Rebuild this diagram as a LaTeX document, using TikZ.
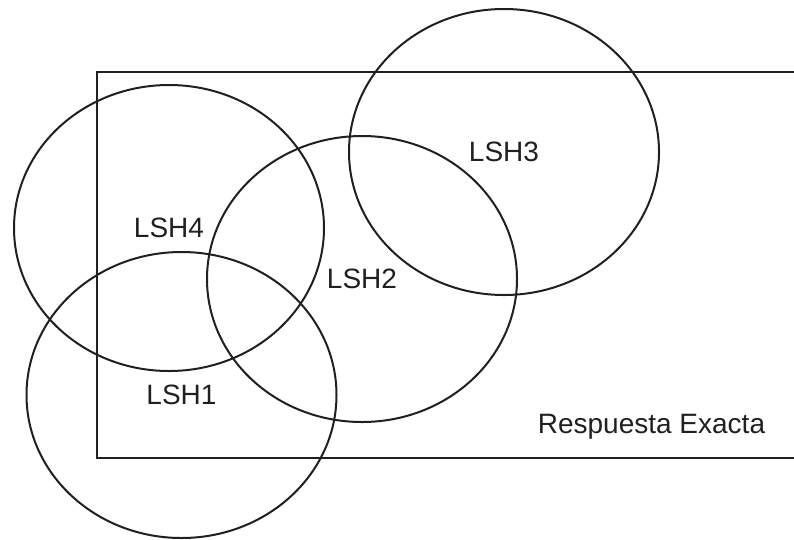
\documentclass[tikz,border=0pt]{standalone}
\usepackage{fontspec}
\setmainfont{Liberation Sans}
\usetikzlibrary{shapes.geometric}
\definecolor{ink}{HTML}{231F20}
\tikzset{
  set/.style={ellipse, draw=ink, line width=2pt, minimum width=310pt,
    minimum height=286pt, inner sep=0pt, text=ink,
    font=\fontsize{28}{33}\selectfont},
  frame/.style={draw=ink, line width=2pt},
  caption/.style={text=ink, font=\fontsize{28}{33}\selectfont, inner sep=0pt}
}
\begin{document}
\begin{tikzpicture}[x=1pt, y=-1pt]
  \useasboundingbox (0,0) rectangle (794,539);
  % exact-answer region, open on the right
  \coordinate (tr) at (794,72);
  \coordinate (tl) at (97,72);
  \coordinate (bl) at (97,458);
  \coordinate (br) at (794,458);
  \draw[frame] (tr) -- (tl) -- (bl) -- (br);
  % LSH candidate sets
  \node[set] (lsh4) at (169,228) {LSH4};
  \node[set] (lsh1) at (181.5,395) {LSH1};
  \node[set] (lsh2) at (362,279) {LSH2};
  \node[set] (lsh3) at (504,152) {LSH3};
  \node[caption] (exact) at (651.5,427) {Respuesta Exacta};
\end{tikzpicture}
\end{document}
